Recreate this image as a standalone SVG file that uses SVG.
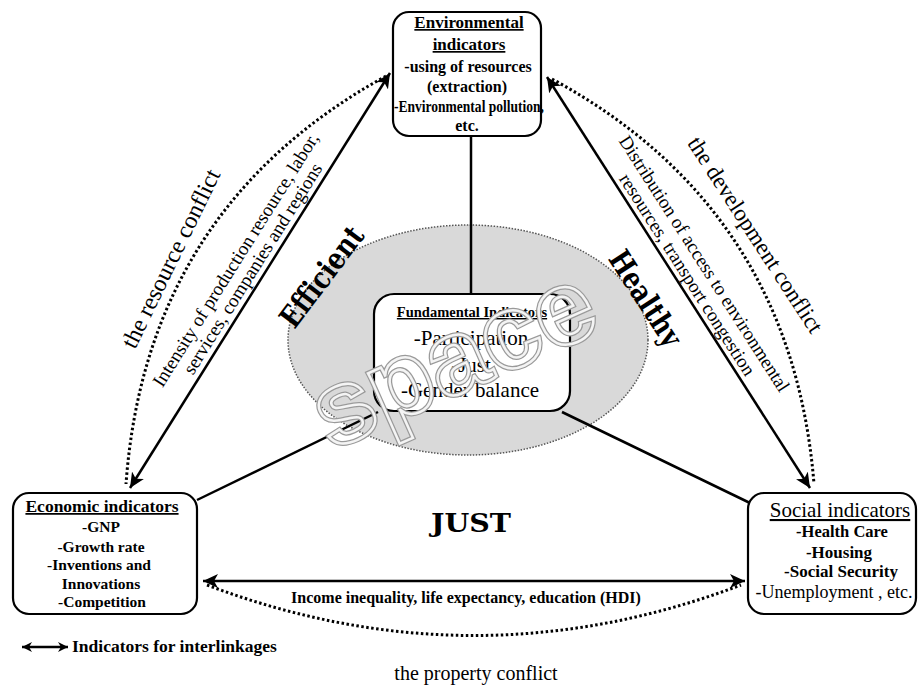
<svg xmlns="http://www.w3.org/2000/svg" width="921" height="691" viewBox="0 0 921 691">
<defs>
<marker id="ah" markerUnits="userSpaceOnUse" markerWidth="16" markerHeight="14" refX="15" refY="7" orient="auto-start-reverse" viewBox="0 0 16 14">
<path d="M0,0 L15,7 L0,14 L4,7 Z" fill="#000"/>
</marker>
<marker id="ahs" markerUnits="userSpaceOnUse" markerWidth="11" markerHeight="10" refX="10" refY="5" orient="auto-start-reverse" viewBox="0 0 11 10">
<path d="M0,0 L10,5 L0,10 L3,5 Z" fill="#000"/>
</marker>
</defs>
<style>
.box{fill:#fff;stroke:#000;stroke-width:2.2}
.t{font-family:"Liberation Serif","Times New Roman",serif;fill:#000}
.b{font-weight:bold}
.u{text-decoration:underline}
.m{text-anchor:middle}
.heavy{font-family:"DejaVu Serif","Liberation Serif",serif;font-weight:bold;fill:#000;text-anchor:middle}
.solid{stroke:#000;stroke-width:2.5;fill:none}
.arr{stroke:#000;stroke-width:2.5;fill:none;marker-start:url(#ah);marker-end:url(#ah)}
.dot{stroke:#000;stroke-width:3;fill:none;stroke-dasharray:2.5 2.5}
.wm{font-family:"Liberation Sans",Arial,sans-serif;font-weight:bold;font-size:105px;text-anchor:middle;fill:none}
</style>
<rect width="921" height="691" fill="#fff"/>

<g id="space-area">
<ellipse cx="468" cy="340" rx="180" ry="115" fill="#d9d9d9" stroke="#555" stroke-width="1.5" stroke-dasharray="1.5 1.5"/>
</g>

<g id="connectors">
<line class="solid" x1="471" y1="136" x2="471" y2="293"/>
<line class="solid" x1="378" y1="412" x2="197" y2="500"/>
<line class="solid" x1="562" y1="412" x2="750" y2="503"/>
<line class="arr" x1="390" y1="73" x2="130" y2="488"/>
<line class="arr" x1="547" y1="77" x2="810" y2="488"/>
<line class="arr" x1="203" y1="581" x2="745" y2="581"/>
<path class="dot" d="M386,76 Q146,208 126,484"/>
<path class="dot" d="M552,79 Q792,209 814,484"/>
<path class="dot" d="M207,585 Q474,686 741,585"/>
</g>

<g id="labels">
<text class="t m" font-size="24" x="178" y="262" transform="rotate(-64 178 262)">the resource conflict</text>
<text class="t m" font-size="19" x="241" y="263" transform="rotate(-57.9 241 263)">Intensity of production resource, labor,</text>
<text class="t m" font-size="19" x="258" y="272" transform="rotate(-57.9 258 272)">services, companies and regions</text>
<text class="t m" font-size="23" x="749" y="239" transform="rotate(57 749 239)">the development conflict</text>
<text class="t m" font-size="19" x="699" y="267" transform="rotate(57.4 699 267)">Distribution of access to environmental</text>
<text class="t m" font-size="19" x="682" y="278" transform="rotate(57.4 682 278)">resources, transport congestion</text>
<text class="heavy" font-size="30" x="330" y="283" textLength="118" lengthAdjust="spacingAndGlyphs" transform="rotate(-53 330 283)">Efficient</text>
<text class="heavy" font-size="30" x="637" y="304" textLength="108" lengthAdjust="spacingAndGlyphs" transform="rotate(57 637 304)">Healthy</text>
<text class="heavy" font-size="26" x="471" y="532" textLength="80" lengthAdjust="spacingAndGlyphs">JUST</text>
<text class="t b m" font-size="16" x="466" y="603">Income inequality, life expectancy, education (HDI)</text>
<text class="t m" font-size="20" x="476" y="680">the property conflict</text>
</g>

<g id="environmental">
<rect class="box" x="393" y="12" width="148" height="124" rx="16"/>
<text class="t b m u" font-size="17" x="469" y="28">Environmental</text>
<text class="t b m u" font-size="17" x="469" y="50">indicators</text>
<text class="t b m" font-size="16" x="468" y="72">-using of resources</text>
<text class="t b m" font-size="16" x="467" y="92">(extraction)</text>
<text class="t b m" font-size="16.5" x="469" y="112" textLength="150" lengthAdjust="spacingAndGlyphs">-Environmental pollution,</text>
<text class="t b m" font-size="16" x="467" y="131">etc.</text>
</g>

<g id="fundamental">
<rect class="box" x="374" y="294" width="196" height="117" rx="20"/>
<text class="t b m u" font-size="14.5" x="472" y="317">Fundamental Indicators</text>
<text class="t m" font-size="21" x="471" y="345">-Participation</text>
<text class="t m" font-size="21" x="471" y="372">-Just</text>
<text class="t m" font-size="21" x="470" y="397">-Gender balance</text>
</g>

<g id="space-watermark">
<text class="wm" x="467" y="390" transform="rotate(-24 467 390)" stroke="#9a9a9a" stroke-width="5">space</text>
<text class="wm" x="467" y="390" transform="rotate(-24 467 390)" stroke="#f4f4f4" stroke-width="2.5">space</text>
</g>

<g id="economic">
<rect class="box" x="13" y="493" width="184" height="121" rx="16"/>
<text class="t b m u" font-size="17.5" x="102" y="512">Economic indicators</text>
<text class="t b m" font-size="15.5" x="101" y="532">-GNP</text>
<text class="t b m" font-size="15.5" x="101" y="552">-Growth rate</text>
<text class="t b m" font-size="15.5" x="99" y="570">-Inventions and</text>
<text class="t b m" font-size="15.5" x="101" y="589">Innovations</text>
<text class="t b m" font-size="15.5" x="102" y="607">-Competition</text>
</g>

<g id="social">
<rect class="box" x="748" y="493" width="168" height="121" rx="16"/>
<text class="t m u" font-size="21" x="840" y="517">Social indicators</text>
<text class="t b m" font-size="16.5" x="842" y="537">-Health Care</text>
<text class="t b m" font-size="17" x="839" y="558">-Housing</text>
<text class="t b m" font-size="17" x="841" y="577">-Social Security</text>
<text class="t m" font-size="18" x="834" y="598">-Unemployment , etc.</text>
</g>

<g id="legend">
<line stroke="#000" stroke-width="2.5" x1="22" y1="647" x2="68" y2="647" marker-start="url(#ahs)" marker-end="url(#ahs)"/>
<text class="t b" font-size="17.5" x="72" y="652">Indicators for interlinkages</text>
</g>
</svg>
